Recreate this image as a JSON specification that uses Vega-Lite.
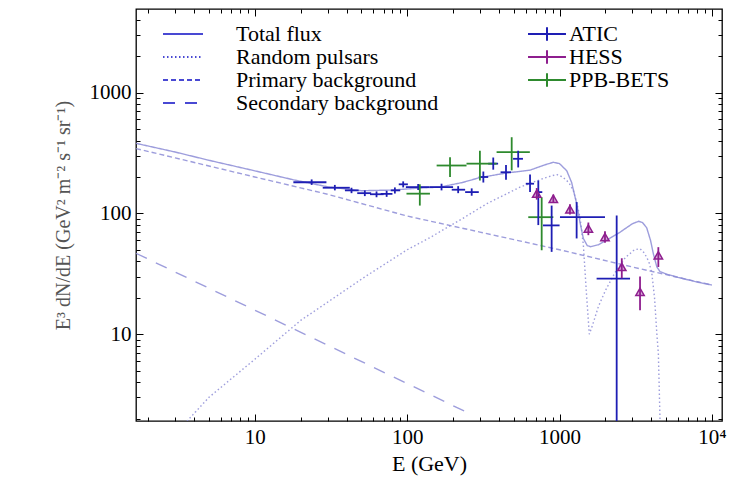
{
  "$schema": "https://vega.github.io/schema/vega-lite/v6.json",
  "width": 586,
  "height": 412,
  "autosize": "none",
  "padding": {"left": 136, "top": 9, "right": 7, "bottom": 62},
  "background": "white",
  "config": {
    "font": "Liberation Serif",
    "view": {"stroke": "black", "strokeWidth": 1.3},
    "axis": {"grid": false, "domain": false, "tickColor": "black", "tickWidth": 1, "labelColor": "black", "labelFont": "Liberation Serif", "titleFont": "Liberation Serif", "titleFontWeight": "normal"},
    "legend": {"labelFont": "Liberation Serif", "labelFontSize": 22, "labelColor": "black"}
  },
  "datasets": {
    "curves": [
      {"s": "Total flux", "E": 1.66, "F": 380}, {"s": "Total flux", "E": 3, "F": 322}, {"s": "Total flux", "E": 5, "F": 275}, {"s": "Total flux", "E": 10, "F": 225}, {"s": "Total flux", "E": 17.8, "F": 190}, {"s": "Total flux", "E": 30, "F": 166}, {"s": "Total flux", "E": 50, "F": 154}, {"s": "Total flux", "E": 80, "F": 156}, {"s": "Total flux", "E": 120, "F": 162}, {"s": "Total flux", "E": 164, "F": 165}, {"s": "Total flux", "E": 230, "F": 180}, {"s": "Total flux", "E": 300, "F": 198}, {"s": "Total flux", "E": 450, "F": 216}, {"s": "Total flux", "E": 640, "F": 228}, {"s": "Total flux", "E": 800, "F": 252}, {"s": "Total flux", "E": 910, "F": 265}, {"s": "Total flux", "E": 1000, "F": 258}, {"s": "Total flux", "E": 1115, "F": 225}, {"s": "Total flux", "E": 1200, "F": 180}, {"s": "Total flux", "E": 1295, "F": 120}, {"s": "Total flux", "E": 1360, "F": 85}, {"s": "Total flux", "E": 1432, "F": 62}, {"s": "Total flux", "E": 1520, "F": 54}, {"s": "Total flux", "E": 1600, "F": 53}, {"s": "Total flux", "E": 1800, "F": 55}, {"s": "Total flux", "E": 2040, "F": 60}, {"s": "Total flux", "E": 2500, "F": 70}, {"s": "Total flux", "E": 3000, "F": 82}, {"s": "Total flux", "E": 3300, "F": 86}, {"s": "Total flux", "E": 3500, "F": 84}, {"s": "Total flux", "E": 3730, "F": 76}, {"s": "Total flux", "E": 3950, "F": 60}, {"s": "Total flux", "E": 4130, "F": 46}, {"s": "Total flux", "E": 4350, "F": 36}, {"s": "Total flux", "E": 4560, "F": 33}, {"s": "Total flux", "E": 5000, "F": 31.5}, {"s": "Total flux", "E": 6000, "F": 29.5}, {"s": "Total flux", "E": 8000, "F": 27}, {"s": "Total flux", "E": 10000, "F": 25.5},
      {"s": "Random pulsars", "E": 3.3, "F": 1.7}, {"s": "Random pulsars", "E": 5, "F": 3}, {"s": "Random pulsars", "E": 10, "F": 6.2}, {"s": "Random pulsars", "E": 20, "F": 13}, {"s": "Random pulsars", "E": 51, "F": 29}, {"s": "Random pulsars", "E": 100, "F": 50}, {"s": "Random pulsars", "E": 141, "F": 63}, {"s": "Random pulsars", "E": 232, "F": 91}, {"s": "Random pulsars", "E": 332, "F": 120}, {"s": "Random pulsars", "E": 550, "F": 165}, {"s": "Random pulsars", "E": 822, "F": 199}, {"s": "Random pulsars", "E": 957, "F": 210}, {"s": "Random pulsars", "E": 1050, "F": 200}, {"s": "Random pulsars", "E": 1150, "F": 180}, {"s": "Random pulsars", "E": 1230, "F": 155}, {"s": "Random pulsars", "E": 1300, "F": 120}, {"s": "Random pulsars", "E": 1361, "F": 93}, {"s": "Random pulsars", "E": 1432, "F": 55}, {"s": "Random pulsars", "E": 1500, "F": 22}, {"s": "Random pulsars", "E": 1567, "F": 10}, {"s": "Random pulsars", "E": 1650, "F": 12}, {"s": "Random pulsars", "E": 1800, "F": 17}, {"s": "Random pulsars", "E": 2000, "F": 23}, {"s": "Random pulsars", "E": 2300, "F": 32}, {"s": "Random pulsars", "E": 2700, "F": 43}, {"s": "Random pulsars", "E": 3100, "F": 50}, {"s": "Random pulsars", "E": 3375, "F": 51}, {"s": "Random pulsars", "E": 3600, "F": 47}, {"s": "Random pulsars", "E": 3850, "F": 40}, {"s": "Random pulsars", "E": 4030, "F": 32}, {"s": "Random pulsars", "E": 4200, "F": 20}, {"s": "Random pulsars", "E": 4350, "F": 10}, {"s": "Random pulsars", "E": 4450, "F": 6.9}, {"s": "Random pulsars", "E": 4560, "F": 2}, {"s": "Random pulsars", "E": 4600, "F": 1.5},
      {"s": "Primary background", "E": 1.66, "F": 344}, {"s": "Primary background", "E": 3, "F": 288}, {"s": "Primary background", "E": 10, "F": 200}, {"s": "Primary background", "E": 30, "F": 144}, {"s": "Primary background", "E": 100, "F": 95}, {"s": "Primary background", "E": 300, "F": 70}, {"s": "Primary background", "E": 1000, "F": 50}, {"s": "Primary background", "E": 3000, "F": 36}, {"s": "Primary background", "E": 10000, "F": 25.5},
      {"s": "Secondary background", "E": 1.66, "F": 46.7}, {"s": "Secondary background", "E": 10, "F": 15.8}, {"s": "Secondary background", "E": 100, "F": 3.9}, {"s": "Secondary background", "E": 260, "F": 2.18}
    ],
    "obs": [
      {"set": "ATIC", "E": 23.6, "F": 181, "Elo": 17.9, "Ehi": 29.5, "Flo": 172, "Fhi": 191},
      {"set": "ATIC", "E": 33.5, "F": 163, "Elo": 27.9, "Ehi": 42, "Flo": 155, "Fhi": 172},
      {"set": "ATIC", "E": 43.1, "F": 155, "Elo": 39, "Ehi": 48, "Flo": 147, "Fhi": 163},
      {"set": "ATIC", "E": 52.7, "F": 147, "Elo": 47, "Ehi": 58, "Flo": 139, "Fhi": 155},
      {"set": "ATIC", "E": 62.9, "F": 144, "Elo": 57, "Ehi": 70, "Flo": 136, "Fhi": 152},
      {"set": "ATIC", "E": 73.3, "F": 145, "Elo": 67, "Ehi": 80, "Flo": 137, "Fhi": 154},
      {"set": "ATIC", "E": 83, "F": 155, "Elo": 78, "Ehi": 90, "Flo": 146, "Fhi": 164},
      {"set": "ATIC", "E": 94.1, "F": 174, "Elo": 88, "Ehi": 101, "Flo": 164, "Fhi": 184},
      {"set": "ATIC", "E": 118, "F": 165, "Elo": 98, "Ehi": 140, "Flo": 156, "Fhi": 175},
      {"set": "ATIC", "E": 168, "F": 165, "Elo": 140, "Ehi": 200, "Flo": 155, "Fhi": 176},
      {"set": "ATIC", "E": 216, "F": 157, "Elo": 196, "Ehi": 240, "Flo": 147, "Fhi": 168},
      {"set": "ATIC", "E": 265, "F": 150, "Elo": 240, "Ehi": 295, "Flo": 140, "Fhi": 161},
      {"set": "ATIC", "E": 316, "F": 200, "Elo": 295, "Ehi": 340, "Flo": 180, "Fhi": 222},
      {"set": "ATIC", "E": 367, "F": 258, "Elo": 340, "Ehi": 395, "Flo": 230, "Fhi": 290},
      {"set": "ATIC", "E": 445, "F": 219, "Elo": 410, "Ehi": 480, "Flo": 190, "Fhi": 252},
      {"set": "ATIC", "E": 535, "F": 283, "Elo": 495, "Ehi": 575, "Flo": 240, "Fhi": 330},
      {"set": "ATIC", "E": 640, "F": 176, "Elo": 600, "Ehi": 680, "Flo": 150, "Fhi": 210},
      {"set": "ATIC", "E": 725, "F": 150, "Elo": 690, "Ehi": 770, "Flo": 80, "Fhi": 187},
      {"set": "ATIC", "E": 887, "F": 79.5, "Elo": 778, "Ehi": 1000, "Flo": 48, "Fhi": 116},
      {"set": "ATIC", "E": 1294, "F": 93, "Elo": 1006, "Ehi": 1986, "Flo": 62, "Fhi": 124},
      {"set": "ATIC", "E": 2370, "F": 28.8, "Elo": 1750, "Ehi": 2900, "Flo": 0.5, "Fhi": 96},
      {"set": "HESS", "E": 708, "F": 145.6, "Flo": 130, "Fhi": 162},
      {"set": "HESS", "E": 910, "F": 132, "Flo": 122, "Fhi": 143},
      {"set": "HESS", "E": 1170, "F": 108, "Flo": 98, "Fhi": 119},
      {"set": "HESS", "E": 1545, "F": 74.8, "Flo": 66, "Fhi": 84},
      {"set": "HESS", "E": 1986, "F": 63.7, "Flo": 57, "Fhi": 71},
      {"set": "HESS", "E": 2560, "F": 36, "Flo": 29, "Fhi": 42.5},
      {"set": "HESS", "E": 3373, "F": 22.4, "Flo": 15.8, "Fhi": 30},
      {"set": "HESS", "E": 4448, "F": 45, "Flo": 36, "Fhi": 52.5},
      {"set": "PPB-BETS", "E": 121, "F": 145.6, "Elo": 98.9, "Ehi": 141, "Flo": 116, "Fhi": 174},
      {"set": "PPB-BETS", "E": 191, "F": 249, "Elo": 156, "Ehi": 245, "Flo": 200, "Fhi": 291},
      {"set": "PPB-BETS", "E": 300, "F": 258, "Elo": 245, "Ehi": 386, "Flo": 187, "Fhi": 330},
      {"set": "PPB-BETS", "E": 485, "F": 321, "Elo": 386, "Ehi": 638, "Flo": 227, "Fhi": 427},
      {"set": "PPB-BETS", "E": 763, "F": 93, "Elo": 623, "Ehi": 910, "Flo": 49.5, "Fhi": 136}
    ]
  },
  "resolve": {"axis": {"x": "independent", "y": "independent"}},
  "layer": [
    {
      "data": {"name": "curves"},
      "mark": {"type": "line", "clip": true, "stroke": "#8c8cd6", "strokeWidth": 1.4, "opacity": 0.85},
      "encoding": {
        "x": {"field": "E", "type": "quantitative", "scale": {"type": "log", "domain": [1.66, 11640], "nice": false},
          "axis": {"orient": "bottom", "values": [10, 100, 1000, 10000], "tickSize": -7, "labelPadding": 12, "labelFontSize": 21,
            "labelExpr": "datum.value >= 10000 ? '10⁴' : format(datum.value, 'd')", "labelFlush": false,
            "title": "E  (GeV)", "titleFontSize": 22, "titlePadding": 6, "titleColor": "black"}},
        "y": {"field": "F", "type": "quantitative", "scale": {"type": "log", "domain": [1.91, 4920], "nice": false},
          "axis": {"orient": "left", "values": [10, 100, 1000], "tickSize": -7, "labelPadding": 12, "labelFontSize": 21, "format": "d", "labelFlush": false,
            "title": "E³ dN/dE   (GeV² m⁻² s⁻¹ sr⁻¹)", "titleFontSize": 20, "titleColor": "#555555", "titlePadding": 16}},
        "strokeDash": {"field": "s", "type": "nominal",
          "scale": {"domain": ["Total flux", "Random pulsars", "Primary background", "Secondary background"], "range": [[1, 0], [1.5, 2.5], [5, 3], [12, 10]]},
          "legend": {"orient": "none", "legendX": 36, "legendY": 14, "title": null, "symbolType": "M-4,0H4", "symbolSize": 100, "symbolStrokeWidth": 1.8, "symbolStrokeColor": "#2a2acc", "labelOffset": 42, "rowPadding": 1, "labelLimit": 400}}
      }
    },
    {
      "data": {"name": "obs"},
      "transform": [{"filter": "datum.Elo != null"}],
      "mark": {"type": "rule", "clip": true, "strokeWidth": 1.8},
      "encoding": {
        "x": {"field": "Elo", "type": "quantitative", "scale": {"type": "log", "domain": [1.66, 11640], "nice": false},
          "axis": {"orient": "bottom", "values": [2, 3, 4, 5, 6, 7, 8, 9, 20, 30, 40, 50, 60, 70, 80, 90, 200, 300, 400, 500, 600, 700, 800, 900, 2000, 3000, 4000, 5000, 6000, 7000, 8000, 9000], "tickSize": -4, "labels": false, "title": null}},
        "x2": {"field": "Ehi"},
        "y": {"field": "F", "type": "quantitative", "scale": {"type": "log", "domain": [1.91, 4920], "nice": false},
          "axis": {"orient": "left", "values": [2, 3, 4, 5, 6, 7, 8, 9, 20, 30, 40, 50, 60, 70, 80, 90, 200, 300, 400, 500, 600, 700, 800, 900, 2000, 3000, 4000], "tickSize": -4, "labels": false, "title": null}},
        "color": {"field": "set", "type": "nominal",
          "scale": {"domain": ["ATIC", "HESS", "PPB-BETS"], "range": ["#1e1eb4", "#8e1e8e", "#2e8a2e"]},
          "legend": {"orient": "none", "legendX": 400, "legendY": 14, "title": null, "symbolType": "M-4,0H4M0,-1.4V1.4", "symbolSize": 90, "symbolStrokeWidth": 2, "symbolFillColor": "transparent", "labelOffset": 11, "rowPadding": 1}}
      }
    },
    {
      "data": {"name": "obs"},
      "mark": {"type": "rule", "clip": true, "strokeWidth": 1.8},
      "encoding": {
        "x": {"field": "E", "type": "quantitative", "scale": {"type": "log", "domain": [1.66, 11640], "nice": false},
          "axis": {"orient": "top", "values": [10, 100, 1000, 10000], "tickSize": -7, "labels": false, "title": null}},
        "y": {"field": "Flo", "type": "quantitative", "scale": {"type": "log", "domain": [1.91, 4920], "nice": false},
          "axis": {"orient": "right", "values": [10, 100, 1000], "tickSize": -7, "labels": false, "title": null}},
        "y2": {"field": "Fhi"},
        "color": {"field": "set", "type": "nominal"}
      }
    },
    {
      "data": {"name": "obs"},
      "transform": [{"filter": "datum.set == 'HESS'"}],
      "mark": {"type": "point", "clip": true, "shape": "triangle-up", "size": 70, "filled": true, "fillOpacity": 0.35, "strokeWidth": 1.5, "stroke": "#8e1e8e"},
      "encoding": {
        "x": {"field": "E", "type": "quantitative", "scale": {"type": "log", "domain": [1.66, 11640], "nice": false},
          "axis": {"orient": "top", "values": [2, 3, 4, 5, 6, 7, 8, 9, 20, 30, 40, 50, 60, 70, 80, 90, 200, 300, 400, 500, 600, 700, 800, 900, 2000, 3000, 4000, 5000, 6000, 7000, 8000, 9000], "tickSize": -4, "labels": false, "title": null}},
        "y": {"field": "F", "type": "quantitative", "scale": {"type": "log", "domain": [1.91, 4920], "nice": false},
          "axis": {"orient": "right", "values": [2, 3, 4, 5, 6, 7, 8, 9, 20, 30, 40, 50, 60, 70, 80, 90, 200, 300, 400, 500, 600, 700, 800, 900, 2000, 3000, 4000], "tickSize": -4, "labels": false, "title": null}},
        "color": {"field": "set", "type": "nominal"}
      }
    }
  ]
}
